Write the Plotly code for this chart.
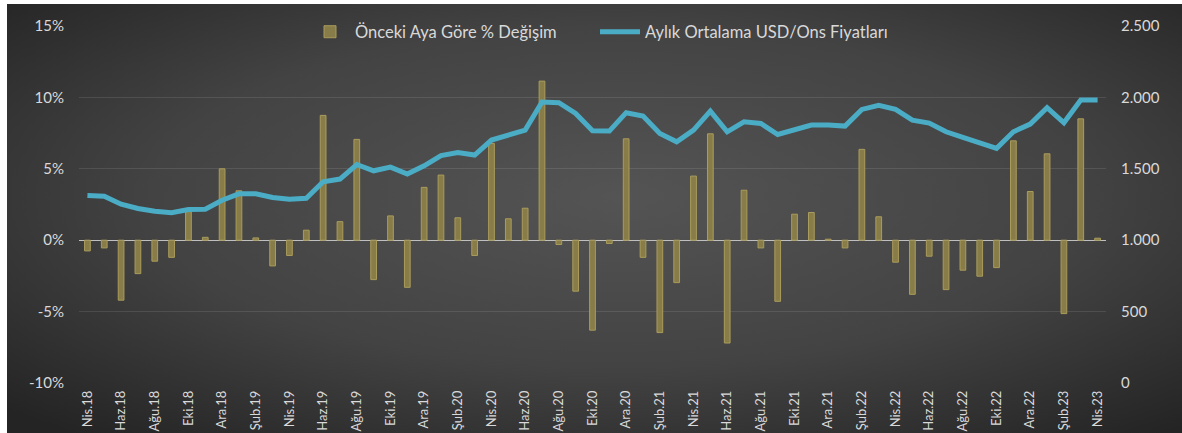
import base64
import plotly.graph_objects as go

# ---------------- data ----------------
months = ["Nis.18", "May.18", "Haz.18", "Tem.18", "Ağu.18", "Eyl.18", "Eki.18", "Kas.18", "Ara.18",
          "Oca.19", "Şub.19", "Mar.19", "Nis.19", "May.19", "Haz.19", "Tem.19", "Ağu.19", "Eyl.19",
          "Eki.19", "Kas.19", "Ara.19", "Oca.20", "Şub.20", "Mar.20", "Nis.20", "May.20", "Haz.20",
          "Tem.20", "Ağu.20", "Eyl.20", "Eki.20", "Kas.20", "Ara.20", "Oca.21", "Şub.21", "Mar.21",
          "Nis.21", "May.21", "Haz.21", "Tem.21", "Ağu.21", "Eyl.21", "Eki.21", "Kas.21", "Ara.21",
          "Oca.22", "Şub.22", "Mar.22", "Nis.22", "May.22", "Haz.22", "Tem.22", "Ağu.22", "Eyl.22",
          "Eki.22", "Kas.22", "Ara.22", "Oca.23", "Şub.23", "Mar.23", "Nis.23"]

pct_change = [-0.75, -0.54, -4.2, -2.34, -1.47, -1.2, 2.0, 0.2, 5.0,
              3.46, 0.16, -1.8, -1.07, 0.7, 8.74, 1.3, 7.06, -2.76,
              1.7, -3.3, 3.7, 4.56, 1.57, -1.07, 6.78, 1.5, 2.24,
              11.14, -0.3, -3.57, -6.3, -0.23, 7.1, -1.2, -6.47, -2.97,
              4.49, 7.45, -7.2, 3.5, -0.54, -4.28, 1.82, 1.94, 0.07,
              -0.54, 6.36, 1.64, -1.54, -3.79, -1.12, -3.46, -2.1, -2.52,
              -1.92, 6.96, 3.41, 6.05, -5.14, 8.5, 0.14]

usd_oz = [1313, 1308, 1252, 1222, 1203, 1192, 1215, 1217, 1280,
          1325, 1325, 1299, 1287, 1294, 1409, 1428, 1530, 1486,
          1512, 1463, 1521, 1593, 1614, 1596, 1701, 1736, 1771,
          1968, 1963, 1888, 1766, 1764, 1893, 1869, 1748, 1689,
          1771, 1904, 1759, 1829, 1818, 1740, 1771, 1806, 1806,
          1799, 1916, 1944, 1916, 1841, 1820, 1759, 1720, 1678,
          1643, 1759, 1813, 1928, 1822, 1981, 1981]

left_tickvals = [-10, -5, 0, 5, 10, 15]
left_ticktext = ["-10%", "-5%", "0%", "5%", "10%", "15%"]
right_tickvals = [0, 500, 1000, 1500, 2000, 2500]
right_ticktext = ["0", "500", "1.000", "1.500", "2.000", "2.500"]

bar_name = "Önceki Aya Göre % Değişim"
line_name = "Aylık Ortalama USD/Ons Fiyatları"

# ---------------- layout geometry ----------------
W, H = 1182, 433
ML, MR, MT, MB = 79, 76, 26, 50
pw, ph = W - ML - MR, H - MT - MB

# radial gradient background as svg image
svg = (
    '<svg xmlns="http://www.w3.org/2000/svg" width="1175" height="429" '
    'viewBox="0 0 1175 429" preserveAspectRatio="none">'
    '<defs><radialGradient id="g" cx="0.52" cy="0.45" r="0.72">'
    '<stop offset="0" stop-color="#545454"/>'
    '<stop offset="0.55" stop-color="#434343"/>'
    '<stop offset="1" stop-color="#242424"/>'
    '</radialGradient></defs>'
    '<rect x="0" y="0" width="1175" height="429" fill="url(#g)"/></svg>'
)
bg_src = "data:image/svg+xml;base64," + base64.b64encode(svg.encode()).decode()

bg_left_px, bg_top_px = 7, 4
img_x = (bg_left_px - ML) / pw
img_y = (H - MB - bg_top_px) / ph
img_sx = (W - bg_left_px) / pw
img_sy = (H - bg_top_px) / ph


def px_x(p):
    return (p - ML) / pw


def px_y(p):
    return (H - MB - p) / ph


FONT = "Lato, 'Open Sans', sans-serif"
TXT = "#d9d9d9"

fig = go.Figure()
fig.add_trace(go.Bar(
    x=months, y=pct_change, name=bar_name,
    marker=dict(color="#887d48", line=dict(color="#aa9c5c", width=1)),
    yaxis="y", legend="legend",
))
fig.add_trace(go.Scatter(
    x=months, y=usd_oz, name=line_name, mode="lines",
    line=dict(color="#4bacc6", width=5),
    yaxis="y2", legend="legend2",
))

n = len(months)
leg_common = dict(orientation="h", yanchor="middle", xanchor="left",
                  font=dict(size=16.5, color=TXT), bgcolor="rgba(0,0,0,0)", itemwidth=40)
fig.update_layout(
    width=W, height=H,
    margin=dict(l=ML, r=MR, t=MT, b=MB, pad=0, autoexpand=False),
    paper_bgcolor="white",
    plot_bgcolor="rgba(0,0,0,0)",
    font=dict(family=FONT, color=TXT),
    bargap=0.66,
    showlegend=True,
    legend=dict(x=px_x(355 - 50), y=px_y(32), **leg_common),
    legend2=dict(x=px_x(645 - 50), y=px_y(32), **leg_common),
    images=[dict(source=bg_src, xref="paper", yref="paper", x=img_x, y=img_y,
                 sizex=img_sx, sizey=img_sy, sizing="stretch", layer="below",
                 xanchor="left", yanchor="top")],
    xaxis=dict(type="category", categoryorder="array", categoryarray=months,
               tickvals=months[::2], tickangle=-90, showgrid=False, showline=False,
               ticks="", tickfont=dict(size=13, color=TXT), range=[-0.5, n - 0.5],
               zeroline=False, automargin=False, ticklabelstandoff=4),
    xaxis2=dict(overlaying="x", anchor="free", position=10 / 25, type="linear",
                range=[-0.5, n - 0.5], tickvals=[i - 0.5 for i in range(0, n + 1, 2)],
                ticks="outside", ticklen=4, tickcolor="#bfbfbf", tickwidth=1,
                showticklabels=False, showgrid=False, showline=True,
                linecolor="#bfbfbf", linewidth=1, zeroline=False, side="bottom"),
    yaxis=dict(range=[-10, 15], tickvals=left_tickvals, ticktext=left_ticktext,
               showgrid=True, gridcolor="rgba(255,255,255,0.10)", gridwidth=1,
               zeroline=True, zerolinecolor="#bfbfbf", zerolinewidth=1,
               tickfont=dict(size=15, color=TXT), ticks="", showline=False,
               ticklabelstandoff=14, automargin=False),
    yaxis2=dict(range=[0, 2500], tickvals=right_tickvals, ticktext=right_ticktext,
                overlaying="y", side="right", showgrid=False, zeroline=False,
                tickfont=dict(size=15, color=TXT), ticks="", showline=False,
                ticklabelstandoff=14, automargin=False),
)

fig.write_html("out.html", config={"displayModeBar": False},
               post_script="document.body.style.margin='0';document.body.style.padding='0';")
